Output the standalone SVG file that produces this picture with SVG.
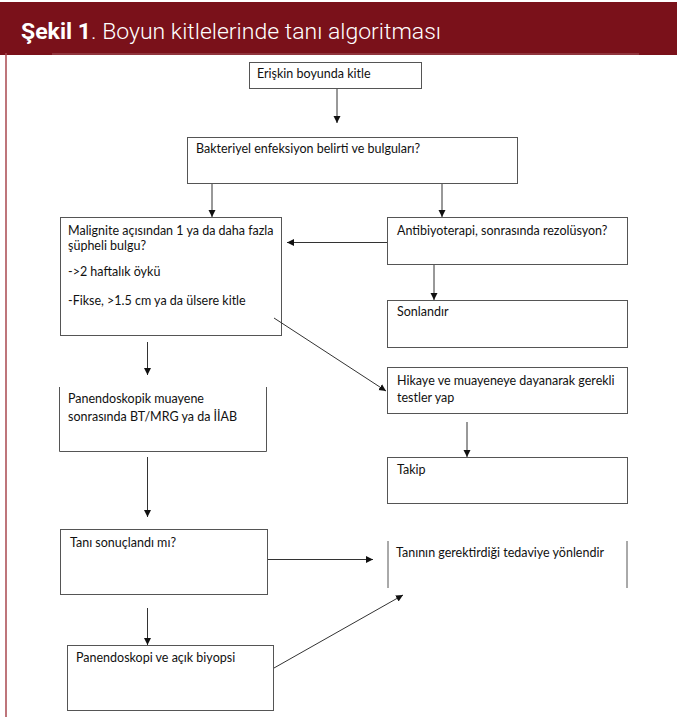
<svg xmlns="http://www.w3.org/2000/svg" width="677" height="717" viewBox="0 0 677 717">
<style>
.box{fill:#fff;stroke:#555;stroke-width:1}
.side{fill:none;stroke:#555;stroke-width:1}
.t{font-family:Lato,"Liberation Sans",sans-serif;font-size:12.5px;fill:#111}
.c{fill:none;stroke:#333;stroke-width:1}
.title{font-family:Roboto,"Liberation Sans",sans-serif;font-size:22px;font-weight:300;fill:#fff}
</style>
<defs>
<marker id="ah" markerWidth="8" markerHeight="8" refX="7" refY="4" orient="auto" markerUnits="userSpaceOnUse">
<path d="M0,0.5 L7,4 L0,7.5 Z" fill="#111"/>
</marker>
</defs>
<rect x="0" y="0" width="677" height="717" fill="#fff"/>
<g id="header">
<rect x="0" y="2" width="677" height="53" fill="#7a111a"/>
<line x1="52" y1="54" x2="639" y2="54" stroke="#a65a60" stroke-width="1"/>
<line x1="6" y1="53" x2="6" y2="717" stroke="#a9474f" stroke-width="1.5"/>
<text class="title" x="21" y="39" textLength="420" lengthAdjust="spacingAndGlyphs"><tspan font-weight="bold">Şekil 1</tspan>. Boyun kitlelerinde tanı algoritması</text>
</g>
<g id="n1"><rect class="box" x="249.5" y="62.5" width="172" height="26"/><text class="t" x="257" y="78">Erişkin boyunda kitle</text></g>
<g id="n2"><rect class="box" x="187.5" y="137.5" width="330" height="46"/><text class="t" x="196" y="153">Bakteriyel enfeksiyon belirti ve bulguları?</text></g>
<g id="n3"><rect class="box" x="60.5" y="217.5" width="221" height="118"/>
<text class="t" x="68" y="235">Malignite açısından 1 ya da daha fazla</text>
<text class="t" x="68" y="250">şüpheli bulgu?</text>
<text class="t" x="68" y="276">-&gt;2 haftalık öykü</text>
<text class="t" x="68" y="305">-Fikse, &gt;1.5 cm ya da ülsere kitle</text></g>
<g id="n4"><rect class="box" x="387.5" y="217.5" width="240" height="47"/><text class="t" x="397" y="235">Antibiyoterapi, sonrasında rezolüsyon?</text></g>
<g id="n5"><rect class="box" x="387.5" y="300.5" width="240" height="47"/><text class="t" x="397" y="316">Sonlandır</text></g>
<g id="n6"><rect class="box" x="387.5" y="367.5" width="240" height="46"/><text class="t" x="397" y="385">Hikaye ve muayeneye dayanarak gerekli</text><text class="t" x="397" y="402">testler yap</text></g>
<g id="n7"><path class="side" d="M59.5,387 V451.5 H266.5 V387"/><text class="t" x="68" y="403">Panendoskopik muayene</text><text class="t" x="68" y="421">sonrasında BT/MRG ya da İİAB</text></g>
<g id="n8"><rect class="box" x="387.5" y="457.5" width="240" height="46"/><text class="t" x="397" y="474">Takip</text></g>
<g id="n9"><rect class="box" x="60.5" y="529.5" width="207" height="65"/><text class="t" x="70" y="547">Tanı sonuçlandı mı?</text></g>
<g id="n10"><line class="side" x1="388" y1="541" x2="388" y2="588"/><line class="side" x1="627" y1="541" x2="627" y2="588"/><text class="t" x="396" y="557">Tanının gerektirdiği tedaviye yönlendir</text></g>
<g id="n11"><rect class="box" x="67.5" y="645.5" width="206" height="65"/><text class="t" x="76" y="662">Panendoskopi ve açık biyopsi</text></g>
<g id="connectors">
<line class="c" x1="337" y1="89" x2="337" y2="123" marker-end="url(#ah)"/>
<line class="c" x1="212" y1="184" x2="212" y2="217" marker-end="url(#ah)"/>
<line class="c" x1="442" y1="184" x2="442" y2="217" marker-end="url(#ah)"/>
<line class="c" x1="387" y1="242.5" x2="287" y2="242.5" marker-end="url(#ah)"/>
<line class="c" x1="434" y1="265" x2="434" y2="300" marker-end="url(#ah)"/>
<line class="c" x1="274" y1="318" x2="386" y2="391" marker-end="url(#ah)"/>
<line class="c" x1="147.5" y1="342" x2="147.5" y2="375" marker-end="url(#ah)"/>
<line class="c" x1="467" y1="422" x2="467" y2="457" marker-end="url(#ah)"/>
<line class="c" x1="147.5" y1="457" x2="147.5" y2="517" marker-end="url(#ah)"/>
<line class="c" x1="268" y1="559.5" x2="373" y2="559.5" marker-end="url(#ah)"/>
<line class="c" x1="147.5" y1="608" x2="147.5" y2="645" marker-end="url(#ah)"/>
<line class="c" x1="274" y1="668" x2="403" y2="595" marker-end="url(#ah)"/>
</g>
</svg>
